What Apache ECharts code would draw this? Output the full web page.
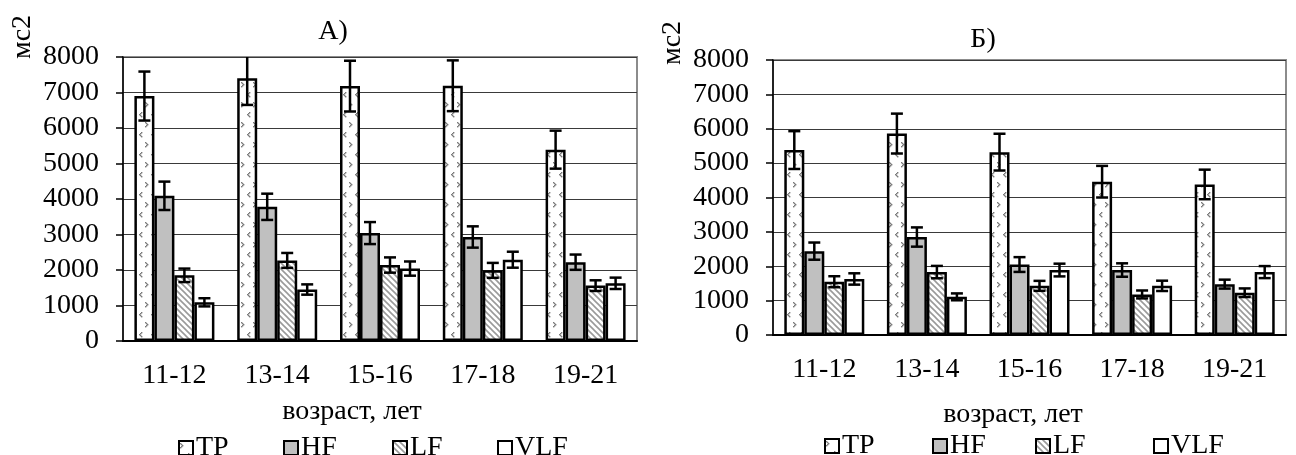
<!DOCTYPE html>
<html>
<head>
<meta charset="utf-8">
<script src="https://cdn.jsdelivr.net/npm/echarts@6/dist/echarts.min.js"></script>
<style>
  html, body { margin: 0; padding: 0; background: #fff; }
  #chart { width: 1296px; height: 455px; }
</style>
</head>
<body>
<div id="chart"></div>
<script>
// ---- data ----
const categories = ['11-12', '13-14', '15-16', '17-18', '19-21'];
const seriesNames = ['TP', 'HF', 'LF', 'VLF'];

// panel А)
const tpA  = [6900, 7400, 7180, 7190, 5390];
const hfA  = [4090, 3780, 3040, 2930, 2220];
const lfA  = [1850, 2270, 2140, 1990, 1560];
const vlfA = [1090, 1450, 2040, 2290, 1625];
const tpErrA  = [690, 750, 715, 715, 535];
const hfErrA  = [400, 370, 310, 300, 215];
const lfErrA  = [190, 210, 215, 210, 150];
const vlfErrA = [115, 145, 200, 225, 160];

// panel Б)
const tpB  = [5380, 5860, 5320, 4460, 4380];
const hfB  = [2440, 2850, 2050, 1890, 1480];
const lfB  = [1550, 1830, 1430, 1180, 1230];
const vlfB = [1630, 1110, 1890, 1430, 1830];
const tpErrB  = [550, 580, 535, 460, 430];
const hfErrB  = [250, 280, 215, 195, 130];
const lfErrB  = [160, 180, 145, 115, 125];
const vlfErrB = [165, 100, 185, 150, 175];

const yMin = 0, yMax = 8000, yStep = 1000;

const FONT = '"Liberation Serif", "Times New Roman", serif';
const FS = 28;
const BAR_W = 20;

// паттерны заливки
function makeTpPattern() {
  const c = document.createElement('canvas');
  c.width = 12; c.height = 20;
  const g = c.getContext('2d');
  g.fillStyle = '#fff';
  g.fillRect(0, 0, 12, 20);
  g.fillStyle = '#7a7a7a';
  [[1, 2], [2, 3], [3, 4], [2, 5], [1, 6]].forEach(p => g.fillRect(p[0], p[1], 1.4, 1.4));
  [[9, 12], [8, 13], [7, 14], [8, 15], [9, 16]].forEach(p => g.fillRect(p[0], p[1], 1.4, 1.4));
  return c;
}
function makeHatchPattern() {
  const c = document.createElement('canvas');
  c.width = 6; c.height = 6;
  const g = c.getContext('2d');
  g.fillStyle = '#fff';
  g.fillRect(0, 0, 6, 6);
  g.strokeStyle = '#9a9a9a';
  g.lineWidth = 1.6;
  g.beginPath();
  g.moveTo(0, 0); g.lineTo(6, 6);
  g.moveTo(-1, 5); g.lineTo(1, 7);
  g.moveTo(5, -1); g.lineTo(7, 1);
  g.stroke();
  return c;
}

const fills = [
  { image: makeTpPattern(), repeat: 'repeat' },
  '#c0c0c0',
  { image: makeHatchPattern(), repeat: 'repeat' },
  '#ffffff'
];

// I-образные планки погрешностей
function errRender(params, api) {
  const cat = api.value(0), si = api.value(1), val = api.value(2), err = api.value(3);
  const c = api.coord([cat, val]);
  const x = c[0] + (si - 1.5) * BAR_W;
  const yTop = api.coord([cat, val + err])[1];
  const yBot = api.coord([cat, val - err])[1];
  const cap = 6;
  const st = { stroke: '#000', lineWidth: 2.5 };
  return {
    type: 'group',
    children: [
      { type: 'line', shape: { x1: x, y1: yTop, x2: x, y2: yBot }, style: st },
      { type: 'line', shape: { x1: x - cap, y1: yTop, x2: x + cap, y2: yTop }, style: st },
      { type: 'line', shape: { x1: x - cap, y1: yBot, x2: x + cap, y2: yBot }, style: st }
    ]
  };
}

function buildPanel(idx, values, errs) {
  const out = [];
  values.forEach((vals, si) => {
    out.push({
      name: seriesNames[si],
      type: 'bar',
      xAxisIndex: idx,
      yAxisIndex: idx,
      barWidth: BAR_W,
      barGap: '0%',
      itemStyle: { color: fills[si], borderColor: '#000', borderWidth: 2.5 },
      emphasis: { disabled: true },
      data: vals
    });
  });
  const errData = [];
  values.forEach((vals, si) => {
    vals.forEach((v, ci) => errData.push([ci, si, v, errs[si][ci]]));
  });
  out.push({
    type: 'custom',
    xAxisIndex: idx,
    yAxisIndex: idx,
    renderItem: errRender,
    clip: true,
    z: 10,
    encode: { x: 0, y: 2 },
    data: errData
  });
  return out;
}

function xAxisCfg(gridIndex) {
  return {
    type: 'category',
    gridIndex: gridIndex,
    data: categories,
    axisLine: { lineStyle: { color: '#000', width: 2 } },
    axisTick: { length: 8, lineStyle: { color: '#000', width: 1.5 } },
    axisLabel: { color: '#000', fontFamily: FONT, fontSize: FS, margin: 21 }
  };
}
function yAxisCfg(gridIndex) {
  return {
    type: 'value',
    gridIndex: gridIndex,
    min: yMin, max: yMax, interval: yStep,
    axisLine: { show: true, lineStyle: { color: '#000', width: 1.5 } },
    axisTick: { show: true, length: 7, lineStyle: { color: '#000', width: 1.5 } },
    axisLabel: { color: '#000', fontFamily: FONT, fontSize: FS, margin: 24, formatter: v => String(v) },
    splitLine: { lineStyle: { color: '#3a3a3a', width: 1.2 } }
  };
}

function legendCfg(name, left, top) {
  return {
    data: [name],
    left: left, top: top,
    icon: 'rect',
    itemWidth: 14, itemHeight: 14,
    itemGap: 0,
    selectedMode: false,
    textStyle: { color: '#000', fontFamily: FONT, fontSize: FS, lineHeight: 28, padding: [0, 0, 0, -2] }
  };
}

function label(text, x, y, rot) {
  return {
    type: 'text', x: x, y: y, rotation: rot || 0,
    style: { text: text, fill: '#000', font: FS + 'px ' + FONT, align: 'center', verticalAlign: 'middle' }
  };
}

const chart = echarts.init(document.getElementById('chart'));
chart.setOption({
  backgroundColor: '#fff',
  animation: false,
  grid: [
    { left: 123, right: 659, top: 57, bottom: 114, show: true, borderColor: '#8c8c8c', borderWidth: 2 },
    { left: 773, right: 10, top: 60, bottom: 120, show: true, borderColor: '#8c8c8c', borderWidth: 2 }
  ],
  xAxis: [xAxisCfg(0), xAxisCfg(1)],
  yAxis: [yAxisCfg(0), yAxisCfg(1)],
  legend: [
    legendCfg('TP', 173, 429), legendCfg('HF', 278, 429), legendCfg('LF', 387, 429), legendCfg('VLF', 492, 429),
    legendCfg('TP', 819, 427), legendCfg('HF', 927, 427), legendCfg('LF', 1030, 427), legendCfg('VLF', 1148, 427)
  ],
  graphic: [
    label('А)', 333, 32),
    label('Б)', 983, 40),
    label('мс2', 23, 37, Math.PI / 2),
    label('мс2', 673, 43, Math.PI / 2),
    label('возраст, лет', 352, 412),
    label('возраст, лет', 1013, 415)
  ],
  series: [
    ...buildPanel(0, [tpA, hfA, lfA, vlfA], [tpErrA, hfErrA, lfErrA, vlfErrA]),
    ...buildPanel(1, [tpB, hfB, lfB, vlfB], [tpErrB, hfErrB, lfErrB, vlfErrB])
  ]
});
</script>
</body>
</html>
